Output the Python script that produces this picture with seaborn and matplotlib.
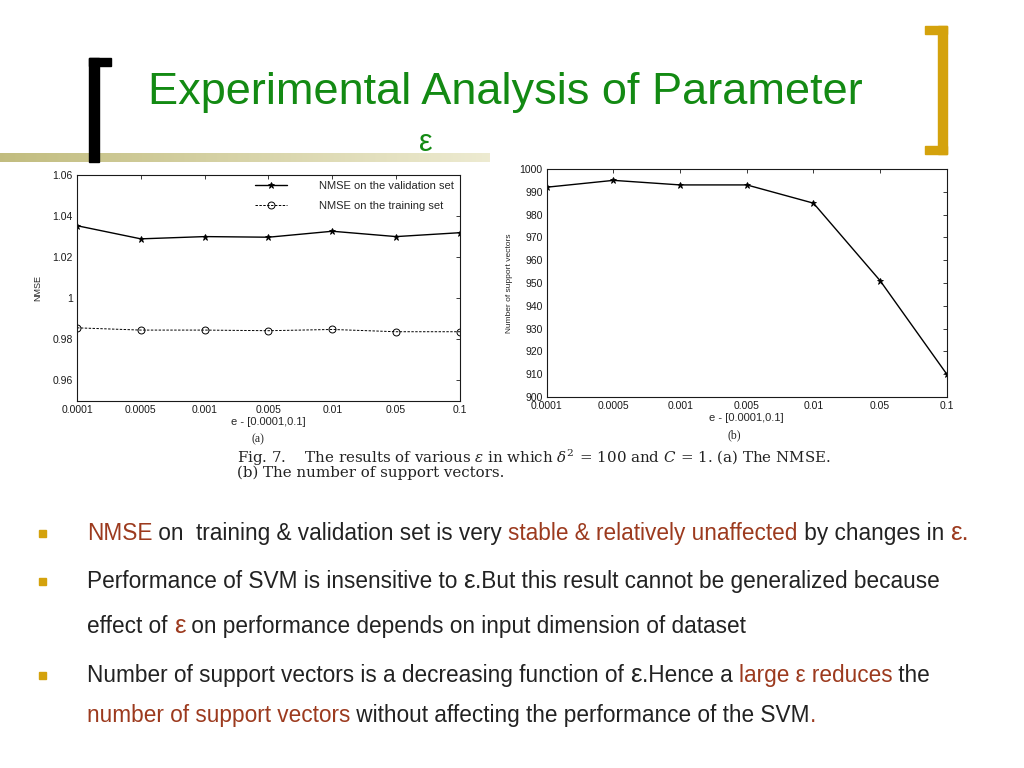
import numpy as np
import pandas as pd
import matplotlib
matplotlib.use('Agg')
import matplotlib.pyplot as plt
from matplotlib.patches import Rectangle
import seaborn as sns

# Data
eps_labels = ['0.0001', '0.0005', '0.001', '0.005', '0.01', '0.05', '0.1']
nmse_validation = [1.0353, 1.0289, 1.0300, 1.0297, 1.0326, 1.0300, 1.0319]
nmse_training = [0.9856, 0.9845, 0.9845, 0.9842, 0.9848, 0.9837, 0.9837]
support_vectors = [992, 995, 993, 993, 985, 951, 910]

nmse_ticks = [0.96, 0.98, 1.00, 1.02, 1.04, 1.06]
nmse_tick_labels = ['0.96', '0.98', '1', '1.02', '1.04', '1.06']
sv_ticks = [900, 910, 920, 930, 940, 950, 960, 970, 980, 990, 1000]

sns.set_style('white')
plt.rcParams['font.family'] = ['Liberation Sans', 'DejaVu Sans']
plt.rcParams['mathtext.fontset'] = 'dejavuserif'

GREEN = '#138a13'
GOLD = '#d4a20c'
DARK = '#222222'
RED = '#9c3a1e'

fig = plt.figure(figsize=(10.24, 7.68), dpi=100)

# Background layer in pixel coordinates for the slide decorations and text
bg = fig.add_axes([0, 0, 1, 1], zorder=0)
bg.set_xlim(0, 1024)
bg.set_ylim(768, 0)
bg.axis('off')

# olive gradient bar under the title
c0 = np.array([0.76, 0.74, 0.50])
c1 = np.array([0.93, 0.92, 0.82])
t = np.linspace(0, 1, 200)[None, :, None]
grad = c0 + (c1 - c0) * t
bg.imshow(grad, extent=[0, 490, 162, 153], aspect='auto', zorder=1)

# left black bracket
bg.add_patch(Rectangle((89, 58), 10, 104, color='black', zorder=3))
bg.add_patch(Rectangle((89, 58), 22, 8, color='black', zorder=3))
# right gold bracket
bg.add_patch(Rectangle((938, 26), 9, 128, color=GOLD, zorder=3))
bg.add_patch(Rectangle((925, 26), 22, 8, color=GOLD, zorder=3))
bg.add_patch(Rectangle((925, 146), 22, 8, color=GOLD, zorder=3))

# title
bg.text(505, 104, 'Experimental Analysis of Parameter', color=GREEN,
        fontsize=32.5, ha='center', va='baseline')
bg.text(426, 151, 'ε', color=GREEN, fontsize=22, ha='center', va='baseline')

TICK_SIZE = 7.5

# ---- chart (a): NMSE ----
df_a = pd.DataFrame({'pos': np.arange(len(eps_labels)),
                     'validation': nmse_validation,
                     'training': nmse_training})
ax_a = fig.add_axes([0.0752, 0.4779, 0.374, 0.2943], zorder=2)
sns.lineplot(data=df_a, x='pos', y='validation', ax=ax_a, color='black',
             lw=1.0, marker='*', markersize=5, markeredgecolor='black',
             markeredgewidth=0.6, label='NMSE on the validation set')
sns.lineplot(data=df_a, x='pos', y='training', ax=ax_a, color='black',
             lw=0.7, linestyle=(0, (2.5, 1.5)), marker='o', markersize=5,
             markerfacecolor='none', markeredgecolor='black',
             markeredgewidth=0.7, label='NMSE on the training set')
ax_a.set_xlim(0, len(eps_labels) - 1)
ax_a.set_ylim(0.95, 1.06)
ax_a.set_xticks(df_a['pos'], eps_labels)
ax_a.set_yticks(nmse_ticks, nmse_tick_labels)
ax_a.set_xlabel('e - [0.0001,0.1]', fontsize=8, labelpad=1)
ax_a.set_ylabel('NMSE', fontsize=6.5, labelpad=7)
ax_a.legend(loc='upper right', frameon=False, fontsize=8, handlelength=2.9,
            handletextpad=2.9, labelspacing=0.85, borderaxespad=0.15)

# ---- chart (b): number of support vectors ----
df_b = pd.DataFrame({'pos': np.arange(len(eps_labels)),
                     'sv': support_vectors})
ax_b = fig.add_axes([0.534, 0.4831, 0.3906, 0.2969], zorder=2)
sns.lineplot(data=df_b, x='pos', y='sv', ax=ax_b, color='black', lw=1.0,
             marker='*', markersize=5, markeredgecolor='black',
             markeredgewidth=0.6)
ax_b.set_xlim(0, len(eps_labels) - 1)
ax_b.set_ylim(900, 1000)
ax_b.set_xticks(df_b['pos'], eps_labels)
ax_b.set_yticks(sv_ticks)
ax_b.set_xlabel('e - [0.0001,0.1]', fontsize=8, labelpad=1)
ax_b.set_ylabel('Number of support vectors', fontsize=6, labelpad=5)

for ax in (ax_a, ax_b):
    ax.tick_params(direction='in', top=True, right=True, length=3,
                   width=0.6, labelsize=TICK_SIZE, pad=3, colors='#1a1a1a')
    for s in ax.spines.values():
        s.set_linewidth(0.8)
        s.set_color('#1a1a1a')

bg.text(258, 439, '(a)', fontsize=8.5, ha='center', va='center',
        family='Liberation Serif')
bg.text(734, 435, '(b)', fontsize=8.5, ha='center', va='center',
        family='Liberation Serif')

# caption (one two-line text)
bg.text(237, 477,
        'Fig. 7.    The results of various $\\varepsilon$ in which '
        '$\\delta^2\\,=\\,100$ and $C\\,=\\,1$. (a) The NMSE.\n'
        '(b) The number of support vectors.',
        fontsize=10.8, family='DejaVu Serif', color='#222222',
        va='baseline', ha='left', linespacing=0.8)

# bullets
fig.canvas.draw()
renderer = fig.canvas.get_renderer()
BULLET_SIZE = 16.3


def draw_runs(x, y, runs):
    for text, color in runs:
        size = BULLET_SIZE * 1.15 if text.startswith('ε') else BULLET_SIZE
        tx = bg.text(x, y, text, color=color, fontsize=size,
                     ha='left', va='baseline')
        w = tx.get_window_extent(renderer=renderer).width
        x += w


lines = [
    (540, [('NMSE', RED), (' on  training & validation set is very ', DARK),
           ('stable & relatively unaffected', RED),
           (' by changes in ', DARK), ('ε.', RED)]),
    (588, [('Performance of SVM is insensitive to ', DARK), ('ε', DARK),
           ('.But this result cannot be generalized because', DARK)]),
    (633, [('effect of ', DARK), ('ε', RED),
           (' on performance depends on input dimension of dataset', DARK)]),
    (682, [('Number of support vectors is a decreasing function of ', DARK),
           ('ε', DARK), ('.Hence a ', DARK), ('large ε reduces', RED),
           (' the', DARK)]),
    (722, [('number of support vectors', RED),
           (' without affecting the performance of the SVM', DARK),
           ('.', RED)]),
]
for y, runs in lines:
    draw_runs(87, y, runs)

for y in (533, 581, 675):
    bg.add_patch(Rectangle((39, y - 3.5), 7, 7, color=GOLD, zorder=3))

fig.savefig('out.png', dpi=100)
